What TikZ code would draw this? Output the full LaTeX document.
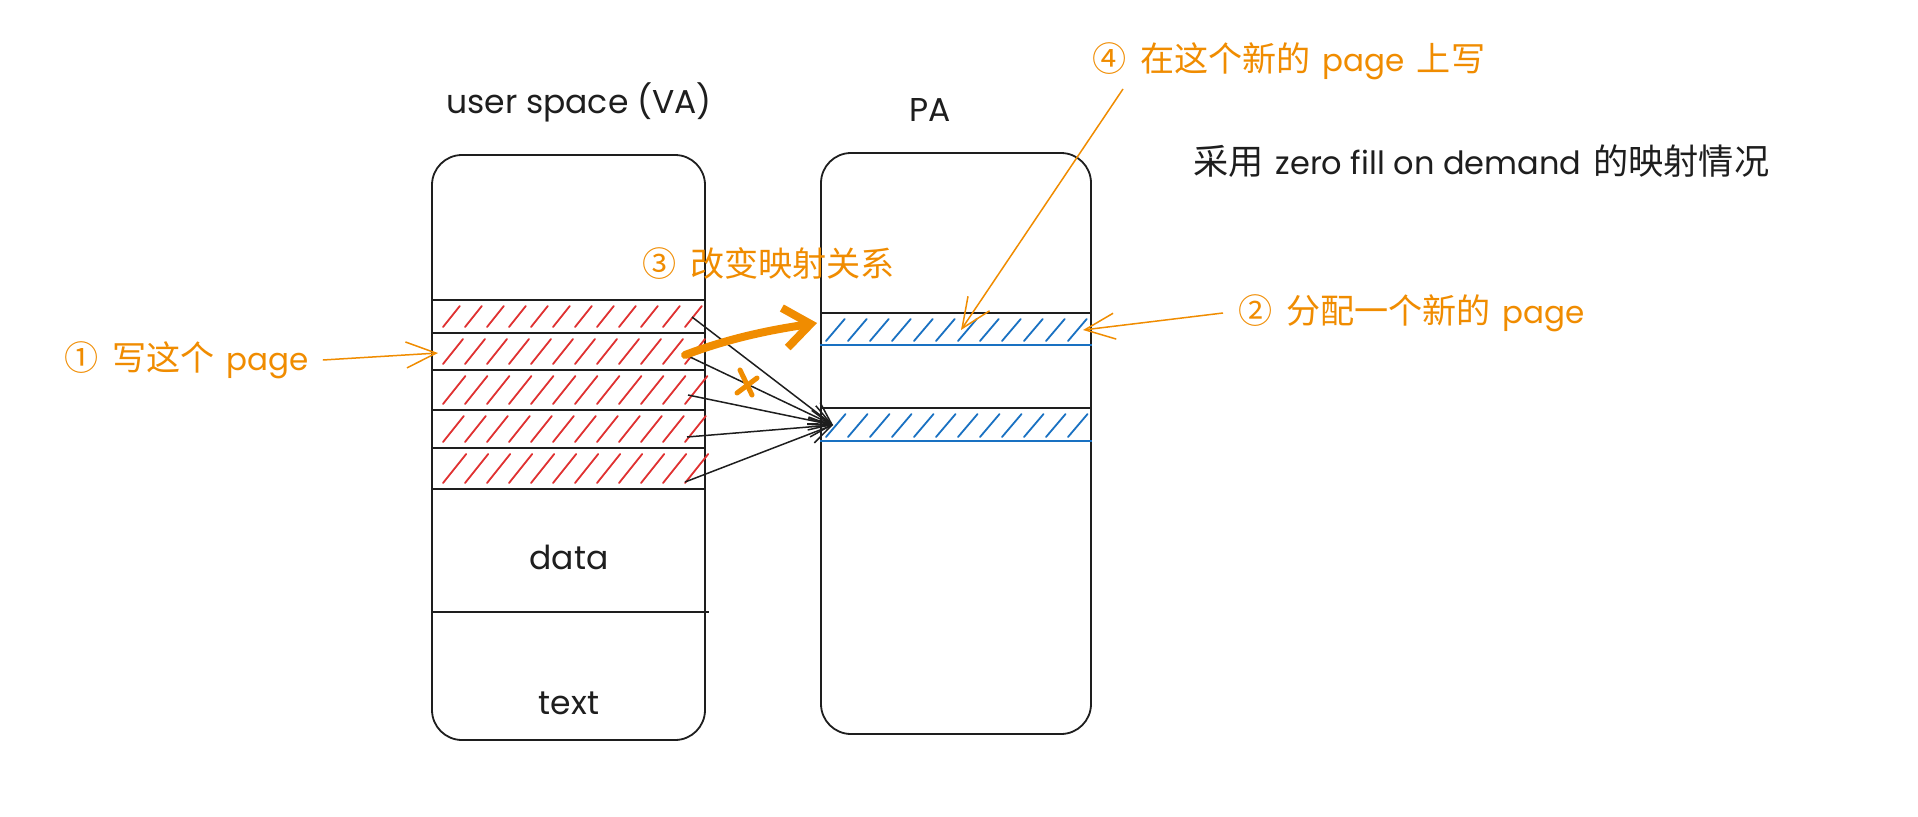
\documentclass[tikz,border=0pt]{standalone}
\usepackage{fontspec}
\setmainfont{Poppins}
\newfontfamily\cjk{Noto Sans CJK SC}[Scale=1.1]
\usetikzlibrary{arrows.meta}
\definecolor{exorange}{HTML}{F08C00}
\definecolor{exred}{HTML}{E03131}
\definecolor{exblue}{HTML}{1971C2}
\definecolor{exblack}{HTML}{1E1E1E}
\begin{document}
\begin{tikzpicture}[x=1pt,y=-1pt,
  membox/.style={draw=exblack, line width=1.8pt, rounded corners=30pt, inner sep=0pt},
  bandline/.style={draw=exblack, line width=1.8pt},
  blueline/.style={draw=exblue, line width=1.8pt},
  hatchred/.style={draw=exred, line width=1.8pt, line cap=round},
  hatchblue/.style={draw=exblue, line width=1.8pt, line cap=round},
  blabel/.style={text=exblack, font=\fontsize{33}{38}\selectfont, inner sep=0pt},
  olabel/.style={text=exorange, font=\fontsize{31}{36}\selectfont, inner sep=0pt, anchor=west},
  blkarrow/.style={draw=exblack, line width=1.5pt, -{Straight Barb[length=22pt,width=20pt,line width=1.5pt]}},
  orarrow/.style={draw=exorange, line width=1.5pt, -{Straight Barb[length=30pt,width=26pt,line width=1.5pt]}},
  bigarrow/.style={draw=exorange, line width=8pt, line cap=round, -{Straight Barb[length=26pt,width=40pt,line width=8pt]}},
]
\useasboundingbox[fill=white] (0,0) rectangle (1918,816);

% boxes
\node[membox, minimum width=273pt, minimum height=585pt] (va) at (568.5,447.5) {};
\node[membox, minimum width=270pt, minimum height=581pt] (pa) at (956,443.5) {};

% VA hatched bands
\foreach \yt/\yb in {300/333, 333/370, 370/410, 410/448, 448/489}{
  \foreach \x in {443,465,...,685}{
    \draw[hatchred] (\x,\yb-6) -- ({\x+0.8*(\yb-\yt-12)},\yt+6);
  }
}
\foreach \y in {300,333,370,410,448,489}{
  \draw[bandline] (va.west |- 0,\y) -- (va.east |- 0,\y);
}
\draw[bandline] (va.west |- 0,612) -- ([xshift=3pt]va.east |- 0,612);

% PA hatched bands
\foreach \yt/\yb in {313/345, 408/441}{
  \foreach \x in {826,848,...,1068}{
    \draw[hatchblue] (\x,\yb-4) -- ({\x+0.85*(\yb-\yt-10)},\yt+6);
  }
  \draw[bandline] (pa.west |- 0,\yt) -- (pa.east |- 0,\yt);
  \draw[blueline] (pa.west |- 0,\yb) -- (pa.east |- 0,\yb);
}

% labels
\node[blabel] (vat) at (579,102) {user space (VA)};
\node[blabel] (pat) at (930,110) {PA};
\node[blabel] (data) at (569,557) {data};
\node[blabel] (text) at (569,703) {text};
\node[blabel, anchor=west, font=\fontsize{32}{38}\selectfont] (title) at (1193,161) {{\cjk 采用}\hspace{12pt}zero fill on demand\hspace{12pt}{\cjk 的映射情况}};

\node[olabel] (l1) at (64,360) {{\cjk ①}\hspace{14pt}{\cjk 写这个}\hspace{12pt}page};
\node[olabel] (l2) at (1238,313) {{\cjk ②}\hspace{14pt}{\cjk 分配一个新的}\hspace{12pt}page};
\node[olabel] (l3) at (642,263) {{\cjk ③}\hspace{14pt}{\cjk 改变映射关系}};
\node[olabel] (l4) at (1092,61) {{\cjk ④}\hspace{14pt}{\cjk 在这个新的}\hspace{12pt}page\hspace{12pt}{\cjk 上写}};

% connector end points
\coordinate (s1) at (692,317);
\coordinate (s2) at (690,357);
\coordinate (s3) at (688,395);
\coordinate (s4) at (687,437);
\coordinate (s5) at (685,482);
\coordinate (t) at (833,425);
\coordinate (p1) at (438,353);
\coordinate (p2) at (1083,330);
\coordinate (p4) at (961,330);
\coordinate (o1) at (685,355);
\coordinate (o2) at (817,323);
\coordinate (x1) at (747,383);

% black mapping arrows
\foreach \s in {s1,s2,s3,s4,s5}{
  \draw[blkarrow] (\s) -- (t);
}

% orange thick arrow and cross
\draw[bigarrow] (o1) .. controls (730,338) and (770,330) .. (o2);
\draw[draw=exorange, line width=5pt, line cap=round] ([shift={(-10,10)}]x1) -- ([shift={(10,-5)}]x1);
\draw[draw=exorange, line width=5pt, line cap=round] ([shift={(-7,-13)}]x1) -- ([shift={(5,12)}]x1);

% orange pointer arrows
\draw[orarrow] ([xshift=14pt]l1.east) -- (p1);
\draw[orarrow] ([xshift=-15pt]l2.west) -- (p2);
\draw[orarrow] (1123,89) -- (p4);
\end{tikzpicture}
\end{document}
